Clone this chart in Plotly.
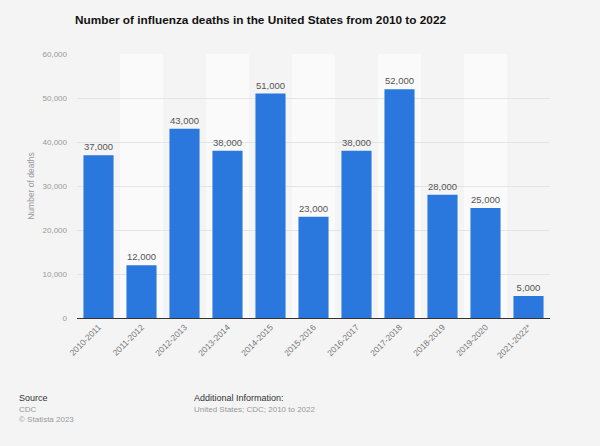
import plotly.graph_objects as go

seasons = ["2010-2011", "2011-2012", "2012-2013", "2013-2014", "2014-2015", "2015-2016",
           "2016-2017", "2017-2018", "2018-2019", "2019-2020", "2021-2022*"]
deaths = [37000, 12000, 43000, 38000, 51000, 23000, 38000, 52000, 28000, 25000, 5000]
y_ticks = [0, 10000, 20000, 30000, 40000, 50000, 60000]

ML, MR, MT, MB = 77, 50, 54, 128
W, H = 600, 446
FONT = "Liberation Sans, Arial"

fig = go.Figure()
fig.add_trace(go.Bar(
    x=seasons, y=deaths,
    marker=dict(color="#2a77dd", line=dict(width=0)),
    text=[f"{v:,}" for v in deaths], textposition="outside",
    textfont=dict(family=FONT, size=9.5, color="#555"),
    cliponaxis=False,
))

shapes = []
for i in range(len(seasons)):
    if i % 2 == 1:
        shapes.append(dict(type="rect", xref="x", yref="y", x0=i - 0.5, x1=i + 0.5,
                           y0=0, y1=60000, fillcolor="#fafafa", line=dict(width=0), layer="below"))

fig.update_layout(
    width=W, height=H,
    paper_bgcolor="#f4f4f4", plot_bgcolor="#f4f4f4",
    margin=dict(l=ML, r=MR, t=MT, b=MB),
    title=dict(text="<b>Number of influenza deaths in the United States from 2010 to 2022</b>",
               x=(88 + 433) / 2 / W, xanchor="center", y=1 - 20 / H, yanchor="middle",
               font=dict(family=FONT, size=11.8, color="#111")),
    bargap=0.3,
    shapes=shapes,
    showlegend=False,
    xaxis=dict(tickangle=-45, tickfont=dict(family=FONT, size=8.5, color="#777"),
               showline=True, linecolor="#333", linewidth=1, showgrid=False, ticks="",
               range=[-0.5, len(seasons) - 0.5]),
    yaxis=dict(range=[0, 60000], tickvals=y_ticks, tickformat=",",
               tickfont=dict(family=FONT, size=8, color="#999"),
               ticklabelstandoff=9,
               gridcolor="#e4e4e4", gridwidth=1, zeroline=False, ticks="", ticklen=0,
               title=dict(text="Number of deaths", standoff=6,
                          font=dict(family=FONT, size=8.5, color="#999"))),
    font=dict(family=FONT),
)

annots = [
    (17, 398, "Source", "#333", 9),
    (17, 409, "CDC", "#999", 8),
    (17, 419, "© Statista 2023", "#999", 8),
    (192, 398, "Additional Information:", "#333", 9),
    (192, 409, "United States; CDC; 2010 to 2022", "#999", 8),
]
for x, y, t, c, s in annots:
    fig.add_annotation(x=(x - ML) / (W - ML - MR), y=(H - MB - y) / (H - MT - MB),
                       xref="paper", yref="paper", text=t, showarrow=False,
                       xanchor="left", yanchor="middle", font=dict(size=s, color=c))

fig.write_html("out.html", config={"displayModeBar": False},
               post_script="document.body.style.margin='0px';document.body.style.background='#f4f4f4';")
